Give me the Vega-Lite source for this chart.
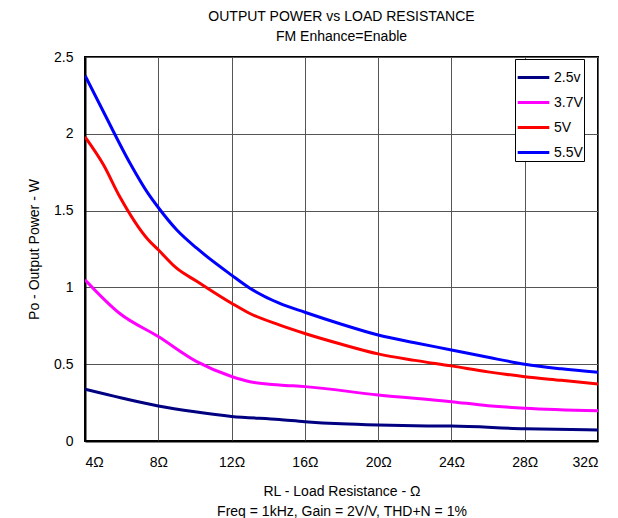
{
  "$schema": "https://vega.github.io/schema/vega-lite/v6.json",
  "autosize": "none",
  "width": 513,
  "height": 384,
  "padding": {"left": 85, "top": 57, "right": 20, "bottom": 77},
  "background": "white",
  "title": {
    "text": "OUTPUT POWER vs LOAD RESISTANCE",
    "subtitle": "FM Enhance=Enable",
    "anchor": "middle",
    "font": "Liberation Sans",
    "fontSize": 14,
    "fontWeight": "normal",
    "color": "black",
    "subtitleFont": "Liberation Sans",
    "subtitleFontSize": 14,
    "subtitleColor": "black",
    "subtitlePadding": 6,
    "offset": 6
  },
  "data": {
    "values": [
      {"r": 4, "p": 0.337, "s": "2.5v"},
      {"r": 6, "p": 0.28, "s": "2.5v"},
      {"r": 8, "p": 0.228, "s": "2.5v"},
      {"r": 10, "p": 0.19, "s": "2.5v"},
      {"r": 12, "p": 0.16, "s": "2.5v"},
      {"r": 14.6, "p": 0.14, "s": "2.5v"},
      {"r": 16, "p": 0.126, "s": "2.5v"},
      {"r": 18, "p": 0.112, "s": "2.5v"},
      {"r": 20, "p": 0.104, "s": "2.5v"},
      {"r": 22, "p": 0.099, "s": "2.5v"},
      {"r": 24, "p": 0.097, "s": "2.5v"},
      {"r": 28, "p": 0.08, "s": "2.5v"},
      {"r": 32, "p": 0.072, "s": "2.5v"},
      {"r": 4, "p": 1.05, "s": "3.7V"},
      {"r": 5.9, "p": 0.83, "s": "3.7V"},
      {"r": 8, "p": 0.68, "s": "3.7V"},
      {"r": 10.1, "p": 0.517, "s": "3.7V"},
      {"r": 12, "p": 0.42, "s": "3.7V"},
      {"r": 13, "p": 0.386, "s": "3.7V"},
      {"r": 14.6, "p": 0.365, "s": "3.7V"},
      {"r": 16, "p": 0.354, "s": "3.7V"},
      {"r": 20, "p": 0.3, "s": "3.7V"},
      {"r": 24, "p": 0.256, "s": "3.7V"},
      {"r": 26, "p": 0.23, "s": "3.7V"},
      {"r": 28, "p": 0.213, "s": "3.7V"},
      {"r": 32, "p": 0.197, "s": "3.7V"},
      {"r": 4, "p": 1.98, "s": "5V"},
      {"r": 5, "p": 1.8, "s": "5V"},
      {"r": 5.9, "p": 1.59, "s": "5V"},
      {"r": 7.45, "p": 1.31, "s": "5V"},
      {"r": 8, "p": 1.245, "s": "5V"},
      {"r": 9, "p": 1.125, "s": "5V"},
      {"r": 10.1, "p": 1.04, "s": "5V"},
      {"r": 12, "p": 0.897, "s": "5V"},
      {"r": 13, "p": 0.83, "s": "5V"},
      {"r": 14.6, "p": 0.756, "s": "5V"},
      {"r": 16, "p": 0.7, "s": "5V"},
      {"r": 18, "p": 0.63, "s": "5V"},
      {"r": 20, "p": 0.567, "s": "5V"},
      {"r": 22, "p": 0.525, "s": "5V"},
      {"r": 24, "p": 0.489, "s": "5V"},
      {"r": 26, "p": 0.45, "s": "5V"},
      {"r": 28, "p": 0.419, "s": "5V"},
      {"r": 30, "p": 0.395, "s": "5V"},
      {"r": 32, "p": 0.371, "s": "5V"},
      {"r": 4, "p": 2.38, "s": "5.5V"},
      {"r": 5, "p": 2.145, "s": "5.5V"},
      {"r": 6.45, "p": 1.81, "s": "5.5V"},
      {"r": 7.45, "p": 1.61, "s": "5.5V"},
      {"r": 8, "p": 1.52, "s": "5.5V"},
      {"r": 9, "p": 1.375, "s": "5.5V"},
      {"r": 10.1, "p": 1.255, "s": "5.5V"},
      {"r": 12, "p": 1.08, "s": "5.5V"},
      {"r": 13, "p": 0.995, "s": "5.5V"},
      {"r": 14.6, "p": 0.897, "s": "5.5V"},
      {"r": 16, "p": 0.838, "s": "5.5V"},
      {"r": 18, "p": 0.76, "s": "5.5V"},
      {"r": 20, "p": 0.69, "s": "5.5V"},
      {"r": 22, "p": 0.64, "s": "5.5V"},
      {"r": 24, "p": 0.593, "s": "5.5V"},
      {"r": 26, "p": 0.545, "s": "5.5V"},
      {"r": 28, "p": 0.5, "s": "5.5V"},
      {"r": 30, "p": 0.47, "s": "5.5V"},
      {"r": 32, "p": 0.447, "s": "5.5V"}
    ]
  },
  "mark": {"type": "line", "strokeWidth": 3, "interpolate": "monotone", "clip": true},
  "encoding": {
    "x": {
      "field": "r",
      "type": "quantitative",
      "scale": {"domain": [4, 32], "nice": false, "zero": false},
      "axis": {
        "values": [4, 8, 12, 16, 20, 24, 28, 32],
        "labelExpr": "datum.value + 'Ω'",
        "title": ["RL - Load Resistance - Ω", "Freq = 1kHz, Gain = 2V/V, THD+N = 1%"],
        "titleLineHeight": 20,
        "titlePadding": 15
      }
    },
    "y": {
      "field": "p",
      "type": "quantitative",
      "scale": {"domain": [0, 2.5], "nice": false},
      "axis": {
        "values": [0, 0.5, 1, 1.5, 2, 2.5],
        "labelExpr": "datum.value + ''",
        "title": "Po - Output Power - W",
        "titlePadding": 12
      }
    },
    "color": {
      "field": "s",
      "type": "nominal",
      "sort": ["2.5v", "3.7V", "5V", "5.5V"],
      "scale": {"domain": ["2.5v", "3.7V", "5V", "5.5V"], "range": ["#000080", "#FF00FF", "#FF0000", "#0000FF"]},
      "legend": {
        "title": null,
        "orient": "none",
        "legendX": 430,
        "legendY": 2,
        "symbolType": "stroke",
        "symbolSize": 1000,
        "symbolStrokeWidth": 3,
        "labelFont": "Liberation Sans",
        "labelFontSize": 14,
        "labelColor": "black",
        "strokeColor": "black",
        "fillColor": "white",
        "padding": 1,
        "rowPadding": -7,
        "labelOffset": 3
      }
    }
  },
  "config": {
    "font": "Liberation Sans",
    "view": {"stroke": "black", "strokeWidth": 2},
    "axis": {
      "labelFont": "Liberation Sans",
      "labelFontSize": 14,
      "labelColor": "black",
      "titleFont": "Liberation Sans",
      "titleFontSize": 14,
      "titleFontWeight": "normal",
      "titleColor": "black",
      "gridColor": "#555555",
      "gridOpacity": 1,
      "gridWidth": 1,
      "domainColor": "black",
      "domainWidth": 2,
      "ticks": false,
      "labelPadding": 14
    },
    "axisX": {"labelPadding": 14},
    "axisY": {"labelPadding": 12}
  }
}
